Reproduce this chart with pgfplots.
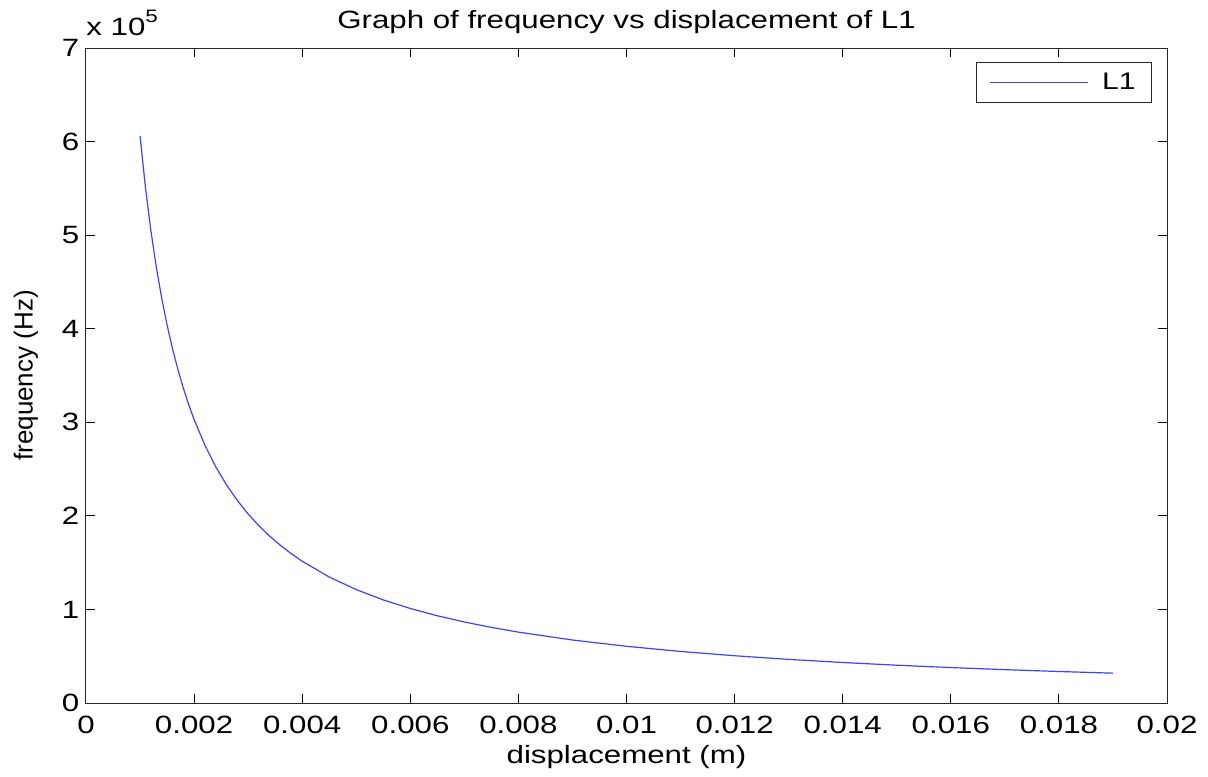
\documentclass[border=0pt]{standalone}
\usepackage{fontspec}
\setmainfont{Liberation Sans}[FakeStretch=1.25]
\newfontfamily\plainfont{Liberation Sans}
\usepackage{pgfplots}
\pgfplotsset{compat=1.18}
\begin{document}
\fontsize{12.5}{14}\selectfont
\begin{tikzpicture}
\useasboundingbox (-43pt,-36.5pt) rectangle (561pt,351.5pt);
\begin{axis}[
  name=ax,
  at={(0,0)}, anchor=south west,
  scale only axis,
  width=540.5pt, height=327.5pt,
  xmin=0, xmax=0.02, ymin=0, ymax=700000,
  xtick={0,0.002,0.004,0.006,0.008,0.01,0.012,0.014,0.016,0.018,0.02},
  xticklabels={0,0.002,0.004,0.006,0.008,0.01,0.012,0.014,0.016,0.018,0.02},
  ytick={0,100000,200000,300000,400000,500000,600000,700000},
  yticklabels={0,1,2,3,4,5,6,7},
  scaled ticks=false,
  tick align=inside,
  major tick length=4.5pt,
  axis line style={black!85, line width=0.5pt},
  tick style={black, line width=0.5pt},
  xticklabel style={anchor=center, yshift=-11pt},
  yticklabel style={anchor=east, xshift=1pt},
  title={Graph of frequency vs displacement of L1},
  title style={at={(0.5,1)}, anchor=base, yshift=4pt},
  xlabel={displacement (m)},
  ylabel={\plainfont\fontsize{13}{15}\selectfont frequency (Hz)},
  xlabel style={at={(axis description cs:0.5,-0.0824)}, anchor=center},
  ylabel style={at={(axis description cs:-0.0555,0.5)}, anchor=center, rotate=0},
  legend style={at={(1,1)}, anchor=north east, xshift=-7.5pt, yshift=-7pt,
    draw=black!85, line width=0.5pt, inner xsep=6pt, inner ysep=3pt,
    font=\fontsize{12}{14}\selectfont},
  legend image code/.code={\draw[#1] (0pt,0pt) -- (49pt,0pt); \path (54pt,0pt);},
]
\addplot[color=blue!75!white, line width=0.6pt] coordinates {
(0.0010,606000) (0.0011,550909) (0.0012,505000) (0.0013,466154) (0.0014,432857)
(0.0015,404000) (0.0016,378750) (0.0017,356471) (0.0018,336667) (0.0019,318947)
(0.0020,303000) (0.0022,275455) (0.0024,252500) (0.0026,233077) (0.0028,216429)
(0.0030,202000) (0.0032,189375) (0.0034,178235) (0.0036,168333) (0.0038,159474)
(0.0040,151500) (0.0045,134667) (0.0050,121200) (0.0055,110182) (0.0060,101000)
(0.0065,93231) (0.0070,86571) (0.0075,80800) (0.0080,75750) (0.0090,67333)
(0.0100,60600) (0.0110,55091) (0.0120,50500) (0.0130,46615) (0.0140,43286)
(0.0150,40400) (0.0160,37875) (0.0170,35647) (0.0180,33667) (0.0190,31895)
};
\addlegendentry{L1}
\end{axis}
\node[anchor=base west, inner sep=0pt] at ([yshift=6.5pt]ax.north west)
  {x 10\raisebox{0.5em}{\fontsize{9}{9}\selectfont 5}};
\end{tikzpicture}
\end{document}
